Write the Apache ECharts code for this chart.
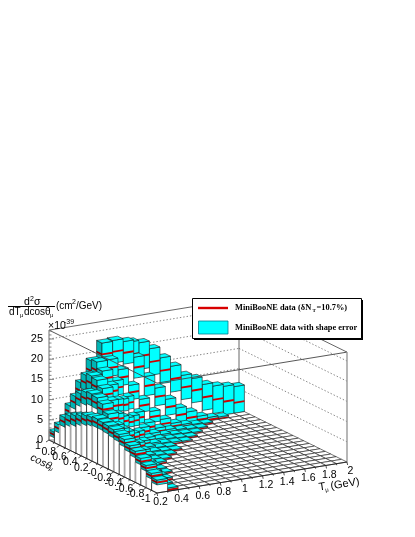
<!DOCTYPE html>
<html><head><meta charset="utf-8">
<style>html,body{margin:0;padding:0;background:#fff}#c{width:415px;height:537px}</style>
<script src="https://cdn.jsdelivr.net/npm/echarts@6/dist/echarts.min.js"></script>
</head><body><div id="c"></div>
<script>
// Bin lower edges / axis ticks
const tpEdges = [0.2,0.3,0.4,0.5,0.6,0.7,0.8,0.9,1.0,1.1,1.2,1.3,1.4,1.5,1.6,1.7,1.8,1.9,2.0];
const cosEdges = [1.0,0.9,0.8,0.7,0.6,0.5,0.4,0.3,0.2,0.1,0.0,-0.1,-0.2,-0.3,-0.4,-0.5,-0.6,-0.7,-0.8,-0.9,-1.0];
const zTicks = [0,5,10,15,20,25];
const tpTickLabels = ['0.2','0.4','0.6','0.8','1','1.2','1.4','1.6','1.8','2'];
const cosTickLabels = ['1','0.8','0.6','0.4','0.2','-0','-0.2','-0.4','-0.6','-0.8','-1'];

// Cross section (1e-39 cm2/GeV), one list per cos bin, back row first
const val095 = [1.9,3.3,5.4,9.0,12.9,16.3,18.6,18.7,18.0,16.1,13.5,11.0,8.5,7.3,5.2,4.2,3.3,2.6];
const val085 = [4.0,7.8,12.6,17.1,20.8,21.0,20.3,16.2,11.2,8.1,5.1,2.7,1.6,0.7,0.3,0.1];
const val075 = [6.3,10.7,15.2,17.9,18.0,15.2,11.1,7.4,4.2,2.0,1.0,0.5,0.2,0.1];
const val065 = [7.2,12.0,15.8,16.5,13.7,9.5,5.4,2.6,1.2,0.6,0.3,0.15,0.08];
const val055 = [7.9,13.0,15.5,13.9,10.0,5.7,2.6,1.1,0.5,0.2,0.1,0.05];
const val045 = [8.6,13.4,14.2,11.0,6.4,2.8,1.1,0.5,0.2,0.1,0.05];
const val035 = [9.3,13.2,11.9,7.7,3.4,1.3,0.5,0.2,0.1,0.05];
const val025 = [9.7,12.3,9.4,4.8,1.8,0.6,0.2,0.1];
const val015 = [10.0,10.6,6.6,2.8,0.9,0.3,0.1,0.05];
const val005 = [9.9,8.6,4.4,1.4,0.4,0.15,0.05];
const valm005 = [9.7,6.7,2.7,0.8,0.2,0.06];
const valm015 = [9.4,5.2,1.7,0.5,0.1];
const valm025 = [9.0,4.0,1.1,0.3];
const valm035 = [8.4,3.1,0.8,0.2];
const valm045 = [7.6,2.5,0.5,0.1];
const valm055 = [6.9,1.9,0.4];
const valm065 = [5.8,1.4,0.25];
const valm075 = [4.8,1.0];
const valm085 = [3.5,0.7];
const valm095 = [2.6,0.3];

// Shape errors, same layout
const err095 = [0.7,1.0,1.3,1.8,2.3,2.8,3.0,3.2,3.3,3.3,3.2,3.2,3.0,3.0,3.2,3.4,3.8,4.0];
const err085 = [1.0,1.5,2.0,2.5,2.8,2.8,2.8,2.6,2.4,2.2,2.0,1.8,1.5,0.9,0.6,0.5];
const err075 = [1.2,1.6,1.9,2.1,2.1,2.0,1.8,1.6,1.4,1.2,0.8,0.6,0.5,0.4];
const err065 = [1.3,1.6,1.8,1.9,1.8,1.6,1.4,1.2,0.9,0.7,0.6,0.5,0.4];
const err055 = [1.3,1.6,1.7,1.6,1.5,1.3,1.1,0.8,0.7,0.6,0.5,0.4];
const err045 = [1.2,1.5,1.6,1.5,1.2,1.0,0.8,0.7,0.6,0.5,0.4];
const err035 = [1.2,1.4,1.5,1.3,1.0,0.8,0.7,0.6,0.5,0.4];
const err025 = [1.1,1.4,1.3,1.1,0.9,0.7,0.6,0.5];
const err015 = [1.1,1.3,1.1,0.9,0.7,0.6,0.5,0.4];
const err005 = [1.0,1.1,0.9,0.8,0.6,0.5,0.4];
const errm005 = [1.0,1.0,0.8,0.7,0.5,0.4];
const errm015 = [1.0,0.9,0.7,0.6,0.5];
const errm025 = [0.9,0.8,0.7,0.5];
const errm035 = [0.9,0.8,0.6,0.5];
const errm045 = [0.8,0.7,0.6,0.4];
const errm055 = [0.8,0.7,0.5];
const errm065 = [0.8,0.6,0.5];
const errm075 = [0.7,0.6];
const errm085 = [0.7,0.5];
const errm095 = [0.6,0.5];

const valRows = [val095,val085,val075,val065,val055,val045,val035,val025,val015,val005,valm005,valm015,valm025,valm035,valm045,valm055,valm065,valm075,valm085,valm095];
const errRows = [err095,err085,err075,err065,err055,err045,err035,err025,err015,err005,errm005,errm015,errm025,errm035,errm045,errm055,errm065,errm075,errm085,errm095];

// Oblique (parallel) view of the 3D box, expressed on the hidden page axes
const ORIGIN=[157,493], U=[190,-31], V=[-108,-53], ZSCALE=4.04, ZMAX=27.2;
function proj(tp,cos,z){
  const u=(tp-0.2)/1.8, v=(cos+1)/2;
  return [ORIGIN[0]+U[0]*u+V[0]*v, ORIGIN[1]+U[1]*u+V[1]*v-ZSCALE*z];
}

const cells=[];
for(let r=0;r<20;r++){ for(let t=17;t>=0;t--){
  const val=valRows[r][t]||0, err=errRows[r][t]||0;
  cells.push([t,r,val,err]);
}}

const LINE='#1a1a1a';
function renderCell(params,api){
  const t=api.value(0), r=api.value(1), val=api.value(2), err=api.value(3);
  const t0=tpEdges[t], t1=tpEdges[t+1], cBack=cosEdges[r], cFront=cosEdges[r+1];
  const P=(tp,c,z)=>api.coord(proj(tp,c,z));
  const kids=[];
  const poly=(pts,fill,stroke,lw)=>kids.push({type:'polygon',shape:{points:pts},
    style:{fill:fill,stroke:stroke||null,lineWidth:lw||0}});
  const seg=(a,b,stroke,lw)=>kids.push({type:'line',shape:{x1:a[0],y1:a[1],x2:b[0],y2:b[1]},style:{stroke:stroke,lineWidth:lw}});
  const front=(a,b,fill,s)=>poly([P(t0,cFront,a),P(t1,cFront,a),P(t1,cFront,b),P(t0,cFront,b)],fill,s,s?0.6:0);
  const side=(a,b,fill,s)=>poly([P(t0,cBack,a),P(t0,cFront,a),P(t0,cFront,b),P(t0,cBack,b)],fill,s,s?0.6:0);
  const top=(z,fill)=>poly([P(t0,cFront,z),P(t1,cFront,z),P(t1,cBack,z),P(t0,cBack,z)],fill,LINE,0.6);
  if(val<=0){ top(0,'#fff'); }
  else{
    const lo=Math.max(val-err,0), hi=val+err, band=0.24;
    if(lo>0){
      side(0,lo,'#fff'); front(0,lo,'#fff');
      seg(P(t1,cFront,0),P(t1,cFront,lo),'#333',0.7);
      seg(P(t0,cFront,0),P(t1,cFront,0),'#333',0.7);
      seg(P(t0,cBack,0),P(t0,cFront,0),'#333',0.7);
      seg(P(t0,cBack,0),P(t0,cBack,lo),r%2?'#222':'#a8a8a8',r%2?0.9:1.8);
    } else {
      top(0,'#fff');
    }
    side(lo,hi,'#00b4b4',LINE); front(lo,hi,'#00ffff',LINE);
    const bl=Math.max(val-band,lo), bh=Math.min(val+band,hi);
    side(bl,bh,'#8a0000'); front(bl,bh,'#d00000');
    top(hi,'#00ffff');
  }
  return {type:'group',children:kids};
}

function segs(api,list,style){
  return {type:'group',children:list.map(s=>{
    const a=api.coord(s[0]), b=api.coord(s[1]);
    return {type:'line',shape:{x1:a[0],y1:a[1],x2:b[0],y2:b[1]},style:style};
  })};
}
function renderBack(params,api){
  const T0=0.2,T1=2,C0=-1,C1=1, kids=[];
  const dotted={stroke:'#777',lineWidth:0.9,lineDash:[1.4,2]};
  zTicks.forEach(z=>{ if(z===0)return;
    kids.push(segs(api,[[proj(T0,C1,z),proj(T1,C1,z)],[proj(T1,C1,z),proj(T1,C0,z)]],dotted));
  });
  kids.push(segs(api,[[proj(T0,C1,ZMAX),proj(T1,C1,ZMAX)],[proj(T1,C1,ZMAX),proj(T1,C0,ZMAX)],
    [proj(T1,C1,0),proj(T1,C1,ZMAX)]],{stroke:'#555',lineWidth:0.9}));
  return {type:'group',children:kids};
}
function renderFront(params,api){
  const T0=0.2,T1=2,C0=-1,C1=1, kids=[];
  kids.push(segs(api,[[proj(T0,C1,ZMAX),proj(T0,C0,ZMAX)],[proj(T0,C0,ZMAX),proj(T1,C0,ZMAX)]],{stroke:'#444',lineWidth:0.9}));
  kids.push(segs(api,[[proj(T0,C1,0),proj(T0,C1,ZMAX)],[proj(T1,C0,0),proj(T1,C0,ZMAX)]],{stroke:'#999',lineWidth:1.4}));
  kids.push(segs(api,[[proj(T0,C1,0),proj(T0,C0,0)],[proj(T0,C0,0),proj(T1,C0,0)]],{stroke:'#222',lineWidth:0.9}));
  // z ticks
  const zt=[]; for(let z=0;z<=ZMAX;z++){ const p=proj(T0,C1,z); zt.push([p,[p[0]+(z%5===0?5:2.5),p[1]]]); }
  kids.push(segs(api,zt,{stroke:'#666',lineWidth:0.8}));
  // cos and Tp ticks
  const ct=[]; cosEdges.forEach((c,i)=>{const p=proj(T0,c,0); ct.push([p,[p[0]-(i%2?1.5:3),p[1]+(i%2?1:2)]]);});
  const tt=[]; tpEdges.forEach((t,i)=>{const p=proj(t,C0,0); tt.push([p,[p[0]+(i%2?0.3:0.6),p[1]+(i%2?1.5:3)]]);});
  kids.push(segs(api,ct.concat(tt),{stroke:'#222',lineWidth:0.8}));
  return {type:'group',children:kids};
}

const FONT='"Liberation Sans",Arial,sans-serif';
const tick=(x,y,s)=>({type:'text',x:x,y:y,style:{text:s,font:'10.5px '+FONT,fill:'#000',textAlign:'center',textVerticalAlign:'middle'}});
const txt=(x,y,s,font,extra)=>Object.assign({type:'text',x:x,y:y,style:{text:s,font:font,fill:'#000',textVerticalAlign:'middle'}},extra||{});
const graphics=[];
zTicks.forEach(z=>{const p=proj(0.2,1,z);
  graphics.push({type:'text',x:43,y:p[1],style:{text:String(z),font:'11px '+FONT,fill:'#000',textAlign:'right',textVerticalAlign:'middle'}});});
cosTickLabels.forEach((s,i)=>{const p=proj(0.2,1-i*0.2,0); graphics.push(tick(p[0]-11,p[1]+6.5,s));});
tpTickLabels.forEach((s,i)=>{const p=proj(0.2+i*0.2,-1,0); graphics.push(tick(p[0]+3.5,p[1]+9.5,s));});
// exponent
graphics.push(txt(48,326,'\u00d710','10.5px '+FONT));
graphics.push(txt(64,322,'-39','7px '+FONT));
// z title
graphics.push(txt(24,302,'d','10.5px '+FONT));
graphics.push(txt(30,299,'2','7px '+FONT));
graphics.push(txt(34,302,'\u03c3','10.5px '+FONT));
graphics.push({type:'line',shape:{x1:8,y1:306.5,x2:55,y2:306.5},style:{stroke:'#000',lineWidth:1}});
graphics.push(txt(9,312,'dT','10px '+FONT));
graphics.push(txt(20,315,'\u03bc','6px '+FONT));
graphics.push(txt(24,312,'dcos\u03b8','10px '+FONT));
graphics.push(txt(50,315,'\u03bc','6px '+FONT));
graphics.push(txt(56,306,'(cm','10px '+FONT));
graphics.push(txt(72,302.5,'2','7px '+FONT));
graphics.push(txt(76,306,'/GeV)','10px '+FONT));
// axis titles
graphics.push({type:'text',x:41,y:462,rotation:-0.47,style:{text:'cos\u03b8',font:'italic 10.5px '+FONT,fill:'#000',textAlign:'center',textVerticalAlign:'middle'}});
graphics.push({type:'text',x:51,y:469,rotation:-0.47,style:{text:'\u03bc',font:'italic 6px '+FONT,fill:'#000',textAlign:'center',textVerticalAlign:'middle'}});
graphics.push({type:'text',x:322,y:487,rotation:0.15,style:{text:'T',font:'11px '+FONT,fill:'#000',textAlign:'center',textVerticalAlign:'middle'}});
graphics.push({type:'text',x:327,y:490,rotation:0.15,style:{text:'\u03bc',font:'6px '+FONT,fill:'#000',textAlign:'center',textVerticalAlign:'middle'}});
graphics.push({type:'text',x:345,y:484,rotation:0.15,style:{text:'(GeV)',font:'11px '+FONT,fill:'#000',textAlign:'center',textVerticalAlign:'middle'}});
// legend
const SERIF='"Liberation Serif","Times New Roman",serif';
graphics.push({type:'rect',shape:{x:194,y:300,width:169,height:40},style:{fill:'#000'}});
graphics.push({type:'rect',shape:{x:192.5,y:298.5,width:169,height:40},style:{fill:'#fff',stroke:'#000',lineWidth:1}});
graphics.push({type:'line',shape:{x1:198,y1:308,x2:228,y2:308},style:{stroke:'#d80000',lineWidth:2.4}});
graphics.push({type:'rect',shape:{x:198.5,y:321,width:29.5,height:13},style:{fill:'#00ffff',stroke:'#007f8f',lineWidth:0.8}});
graphics.push(txt(235,308,'MiniBooNE data','bold 8.4px '+SERIF));
graphics.push(txt(298,308,'(\u03b4N','bold 8.4px '+SERIF));
graphics.push(txt(312.5,310.5,'T','bold 5px '+SERIF));
graphics.push(txt(316.5,308,'=10.7%)','bold 8.4px '+SERIF));
graphics.push(txt(235,328,'MiniBooNE data with shape error','bold 8.4px '+SERIF));

const chart=echarts.init(document.getElementById('c'),null,{renderer:'canvas'});
chart.setOption({
  animation:false,
  backgroundColor:'#fff',
  grid:{left:0,right:0,top:0,bottom:0},
  xAxis:{type:'value',min:0,max:415,show:false},
  yAxis:{type:'value',min:0,max:537,inverse:true,show:false},
  tooltip:{show:false},
  series:[
    {type:'custom',name:'box back',data:[[0]],renderItem:renderBack,silent:true,clip:false,z:1},
    {type:'custom',name:'MiniBooNE data',data:cells,renderItem:renderCell,silent:true,clip:false,progressive:0,z:2,encode:{x:0,y:1}},
    {type:'custom',name:'box front',data:[[0]],renderItem:renderFront,silent:true,clip:false,z:3}
  ],
  graphic:{elements:graphics.map(g=>Object.assign({z:50},g))}
});
</script></body></html>
